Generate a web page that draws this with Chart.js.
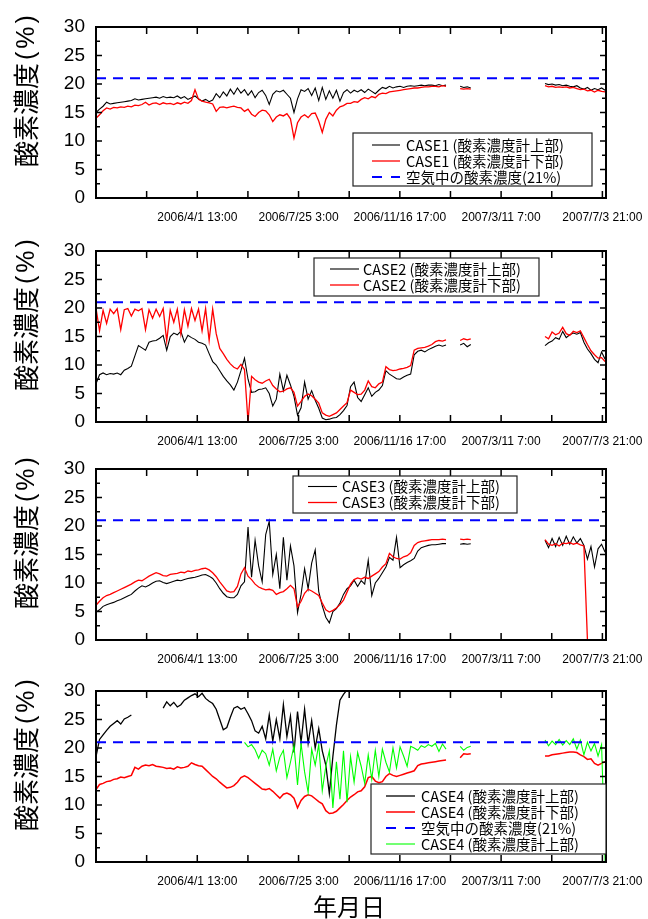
<!DOCTYPE html>
<html>
<head>
<meta charset="utf-8">
<script src="https://cdn.jsdelivr.net/npm/chart.js@4"></script>
<style>
  body { margin: 0; background: #fff; width: 648px; height: 919px; position: relative; overflow: hidden; }
  .panel { position: absolute; left: 0; width: 648px; }
</style>
</head>
<body>
<div class="panel" style="top:7px;height:221px"><canvas id="case1"></canvas></div>
<div class="panel" style="top:231px;height:221px"><canvas id="case2"></canvas></div>
<div class="panel" style="top:449px;height:221px"><canvas id="case3"></canvas></div>
<div class="panel" style="top:671px;height:248px"><canvas id="case4"></canvas></div>
<script>
const _ = null;

// readings every 4 days, day 0 = 2005/12/7 23:00 (left edge of the axis)
const sampleStepDays = 4;
const xMaxDays = 577;
const xMinorDays = 57.2917;
const xTickDays = [114.583, 229.167, 343.75, 458.333, 572.917];
const xTickLabels = ['2006/4/1 13:00', '2006/7/25 3:00', '2006/11/16 17:00', '2007/3/11 7:00', '2007/7/3 21:00'];
const yTitleMain = '酸素濃度';
const yTitleUnit = '(%)';
const xTitle = '年月日';
const airLevel = 21;
const airLabel = '空気中の酸素濃度(21%)';

const case1Upper = [
  15.0, 15.6, 16.1, 16.8, 16.5, 16.6, 16.7, 16.8, 16.9, 17.0,
  17.1, 17.4, 17.2, 17.3, 17.4, 17.5, 17.6, 17.7, 17.5, 17.8,
  17.6, 17.7, 17.6, 17.9, 17.5, 17.8, 17.3, 17.6, 17.9, 17.4,
  17.0, 17.3, 16.9, 17.2, 18.3, 17.6, 18.6, 17.9, 19.1, 18.2,
  19.3, 18.4, 19.0, 18.0, 18.8, 17.6, 18.5, 18.9, 18.0, 16.4,
  18.2, 18.8, 18.6, 18.9, 18.2, 17.5, 15.0, 17.4, 19.0, 18.7,
  19.2, 18.0, 19.3, 17.1, 19.4, 17.3, 18.8, 17.5, 18.9, 17.0,
  18.5, 19.0, 18.4, 18.9, 18.6, 19.0, 18.5, 19.1, 18.7, 18.3,
  18.9, 19.4, 19.2, 19.6, 19.3, 19.5, 19.6, 19.4, 19.6, 19.7,
  19.6, 19.7, 19.8, 19.7, 19.8, 19.8, 19.7, 19.9, 19.7, 19.8,
  _, _, _, 19.6, 19.4, 19.5, 19.3, _, _, _,
  _, _, _, _, _, _, _, _, _, _,
  _, _, _, _, _, _, _, 20.1, 19.9, 20.0,
  19.8, 19.9, 19.7, 19.8, 19.6, 19.5, 19.7, 19.3, 19.1, 19.4,
  18.9, 19.2, 19.0, 19.3, 18.9
];
const case1Lower = [
  14.0, 14.6, 15.3, 15.8, 15.6, 15.9, 15.8, 16.0, 15.9, 16.1,
  16.0, 16.3, 16.2, 16.4, 16.8, 16.3, 16.6, 16.7, 16.4, 16.7,
  16.5, 16.6, 16.4, 16.7, 16.5, 16.8, 16.6, 17.1, 19.0, 17.3,
  17.0, 16.8, 16.7, 16.5, 15.2, 15.9, 16.0, 15.8, 16.0, 16.1,
  15.9, 15.8, 15.2, 15.6, 14.7, 14.3, 15.0, 15.4, 15.3, 14.6,
  13.4, 14.2, 14.6, 14.4, 14.8, 13.9, 10.5, 13.2, 14.2, 14.6,
  14.1, 14.8, 14.9, 13.5, 11.5, 13.8, 15.0, 14.4, 15.4, 16.0,
  16.2, 16.6, 16.6, 16.9, 16.8, 17.3, 17.6, 17.4, 17.8, 17.6,
  18.2, 18.4, 18.3, 18.6, 18.7, 18.8, 18.9, 19.0, 19.1, 19.2,
  19.3, 19.3, 19.4, 19.5, 19.5, 19.6, 19.6, 19.5, 19.7, 19.6,
  _, _, _, 19.2, 19.1, 19.2, 19.1, _, _, _,
  _, _, _, _, _, _, _, _, _, _,
  _, _, _, _, _, _, _, 19.7, 19.5, 19.6,
  19.4, 19.5, 19.4, 19.5, 19.3, 19.4, 19.2, 19.0, 19.1, 18.8,
  18.9, 18.6, 18.9, 18.7, 18.6
];

const case2Upper = [
  6.7, 8.3, 8.6, 8.3, 8.5, 8.4, 8.6, 8.3, 9.1, 9.4,
  9.8, 11.6, 13.4, 13.0, 12.6, 14.0, 14.2, 14.3, 14.7, 15.2,
  12.6, 15.0, 15.6, 15.3, 15.9, 14.0, 15.2, 14.8, 14.5, 14.0,
  13.8, 13.5, 12.0, 10.6, 10.0, 9.0, 8.0, 7.2, 6.5, 5.6,
  7.0, 9.0, 11.2, 7.5, 5.2, 5.3, 5.7, 5.8, 6.0, 5.0,
  2.8, 4.0, 8.4, 5.5, 8.2, 6.5, 4.5, 1.2, 2.5, 7.0,
  4.0, 5.5, 3.8, 2.4, 0.7, 0.4, 0.5, 0.7, 0.8, 1.3,
  2.0, 2.9, 6.2, 7.0, 4.3, 3.6, 4.8, 6.0, 4.5, 5.2,
  5.6, 6.4, 9.0, 8.4, 8.0, 7.6, 7.5, 7.9, 8.2, 8.4,
  11.8, 12.4, 12.6, 12.3, 12.7, 13.0, 13.3, 13.5, 13.3, 13.5,
  _, _, _, 13.5, 13.8, 13.2, 13.6, _, _, _,
  _, _, _, _, _, _, _, _, _, _,
  _, _, _, _, _, _, _, 13.4, 13.9, 14.2,
  14.8, 14.5, 15.9, 14.8, 15.3, 15.6, 15.4, 15.7, 14.0, 12.8,
  12.0, 11.0, 10.4, 12.3, 11.0
];
const case2Lower = [
  20.0, 16.0, 19.6, 17.3, 19.8, 19.0, 19.9, 16.2, 19.7, 19.9,
  18.6, 19.8, 19.5, 19.9, 16.2, 19.7, 18.2, 19.8, 18.5, 19.9,
  14.2, 19.6, 17.5, 19.8, 15.4, 19.7, 16.8, 19.9, 17.8, 19.8,
  16.0, 19.9, 14.3, 19.8, 15.5, 12.9, 12.0, 11.0, 10.2, 9.6,
  9.3, 10.1, 9.2, 0.0, 8.0, 7.4, 7.0, 6.8, 7.2, 7.5,
  6.4, 5.8, 5.3, 5.4, 5.8, 6.0, 5.2, 2.8, 3.6, 4.5,
  4.9, 4.6, 4.0, 3.3, 1.6, 1.2, 1.0, 1.3, 1.6, 2.2,
  2.8, 3.4, 5.6, 5.2, 4.8, 4.9, 5.6, 7.2, 6.2, 6.0,
  6.7, 7.0, 9.7, 9.2, 9.0, 9.1, 9.3, 9.4, 9.6, 9.9,
  12.6, 12.9, 13.0, 13.1, 13.3, 13.6, 14.1, 14.3, 14.2, 14.4,
  _, _, _, 14.3, 14.6, 14.4, 14.6, _, _, _,
  _, _, _, _, _, _, _, _, _, _,
  _, _, _, _, _, _, _, 15.0, 14.6, 15.8,
  15.3, 15.6, 16.6, 15.5, 15.2, 15.9, 15.7, 16.0, 14.8, 13.6,
  12.5, 11.8, 11.2, 11.3, 10.6
];

const case3Upper = [
  4.9, 5.3, 5.9, 6.2, 6.4, 6.6, 6.9, 7.1, 7.4, 7.7,
  8.0, 8.6, 9.1, 9.5, 9.3, 9.6, 10.0, 10.3, 10.4, 10.1,
  9.9, 10.1, 10.3, 10.5, 10.4, 10.6, 10.8, 10.9, 11.0, 11.2,
  11.4, 11.5, 11.2, 10.8, 10.0, 9.0, 8.2, 7.6, 7.4, 7.4,
  8.0, 9.5, 10.2, 19.8, 11.0, 17.5, 13.0, 10.2, 18.5, 20.8,
  11.5, 15.0, 9.0, 18.0, 10.5, 16.5, 13.0, 4.8, 8.0, 12.5,
  9.0, 13.5, 15.8, 8.5, 6.0, 4.0, 3.0, 5.0, 5.5, 6.5,
  8.0, 9.0, 9.5, 10.5, 9.4, 10.4, 9.8, 14.0, 7.8, 10.0,
  10.8, 11.8, 12.8, 14.5, 14.0, 18.0, 12.7, 13.2, 13.6, 13.9,
  14.3, 15.6, 16.2, 16.4, 16.6, 16.7, 16.7, 16.8, 16.9, 16.9,
  _, _, _, 16.8, 16.9, 16.8, 16.9, _, _, _,
  _, _, _, _, _, _, _, _, _, _,
  _, _, _, _, _, _, _, 17.5, 16.2, 17.8,
  16.4, 18.0, 16.6, 18.2, 16.8, 18.1, 17.0, 17.8, 16.6, 14.2,
  16.4, 12.8, 16.0, 16.8, 15.4
];
const case3Lower = [
  6.1, 6.8, 7.4, 7.8, 8.0, 8.3, 8.6, 8.9, 9.2, 9.5,
  9.8, 10.2, 10.5, 10.4, 10.8, 11.2, 11.5, 11.8, 11.6, 11.3,
  11.2, 11.5, 11.6, 11.7, 11.9, 11.8, 12.1, 12.0, 12.2, 12.3,
  12.5, 12.6, 12.3, 11.8, 11.1, 10.2, 9.4, 8.6, 8.4, 8.5,
  9.4, 11.6, 12.7, 11.2, 10.6, 9.8, 9.3, 9.0, 8.8, 8.9,
  8.7, 8.0, 8.3, 8.5, 9.0, 9.6, 9.0, 5.8, 6.8, 8.2,
  8.9, 8.6, 8.2, 7.8, 6.5, 5.3, 4.9, 5.2, 5.6, 6.2,
  7.0, 8.4, 9.8, 10.6, 10.9, 10.7, 11.0, 10.8, 11.2, 11.6,
  12.0, 12.8, 13.4, 15.2, 14.6, 14.3, 14.2, 14.6, 14.8, 15.3,
  16.6, 17.1, 17.3, 17.4, 17.5, 17.6, 17.6, 17.6, 17.7, 17.6,
  _, _, _, 17.7, 17.6, 17.7, 17.6, _, _, _,
  _, _, _, _, _, _, _, _, _, _,
  _, _, _, _, _, _, _, 17.6, 16.8, 16.6,
  16.9, 16.5, 17.0, 16.9, 17.1, 16.8, 17.0, 16.7, 16.5, 0.0,
  0.0, 0.0, 0.0, 0.0, 0.0
];

const case4Upper = [
  18.5, 21.5, 22.3, 23.1, 23.8, 24.3, 24.8, 24.2, 25.1, 25.4,
  25.8, _, _, _, _, _, _, _, _, 27.0,
  28.1, 27.4, 28.0, 27.2, 27.6, 28.4, 28.8, 29.2, 29.5, 29.0,
  29.6, 28.7, 28.2, 27.8, 26.8, 25.0, 23.2, 23.6, 25.4, 27.0,
  27.3, 26.8, 27.1, 26.0, 24.8, 23.0, 22.6, 23.8, 21.6, 25.8,
  21.2, 25.0, 21.6, 27.6, 22.0, 25.6, 19.2, 26.4, 21.0, 26.8,
  20.8, 24.8, 20.0, 23.4, 19.5, 17.0, 12.0, 18.5, 24.0, 28.4,
  29.4, 30.2, 30.6, _, _, _, _, _, _, _,
  _, _, _, _, _, _, _, _, _, _,
  _, _, _, _, _, _, _, _, _, _,
  _, _, _, _, _, _, _, _, _, _,
  _, _, _, _, _, _, _, _, _, _,
  _, _, _, _, _, _, _, _, _, _,
  _, _, _, _, _, _, _, _, _, _,
  _, _, _, _, _
];
const case4Lower = [
  12.7, 13.6, 13.8, 14.1, 14.2, 14.5, 14.6, 14.9, 14.8, 15.0,
  15.2, 16.6, 16.3, 16.8, 17.0, 16.9, 17.1, 16.8, 16.7, 16.6,
  16.4, 16.5, 16.3, 16.7, 16.5, 16.6, 16.8, 17.4, 17.1, 16.9,
  16.8, 16.2, 15.6, 15.0, 14.6, 14.0, 13.5, 13.0, 13.1, 13.4,
  14.0, 14.8, 15.1, 14.8, 14.3, 13.8, 13.3, 12.8, 12.7, 12.9,
  12.4, 11.8, 11.2, 11.9, 12.1, 11.8, 11.2, 9.5, 10.8, 11.5,
  11.8, 11.6, 11.1, 10.6, 10.2, 9.0, 8.5, 8.6, 8.9, 9.5,
  10.1, 10.8, 11.4, 11.8, 12.3, 12.5, 13.2, 14.8, 15.0, 14.2,
  13.9, 14.1, 15.0, 15.5, 15.2, 15.0, 15.2, 15.4, 15.6, 15.8,
  16.0, 16.9, 17.2, 17.3, 17.4, 17.5, 17.6, 17.7, 17.8, 17.9,
  _, _, _, 18.3, 19.0, 18.9, 19.0, _, _, _,
  _, _, _, _, _, _, _, _, _, _,
  _, _, _, _, _, _, _, 18.6, 18.6, 18.8,
  18.9, 19.0, 19.1, 19.2, 19.3, 19.3, 19.2, 18.8, 18.5, 18.0,
  18.1, 17.3, 17.0, 17.3, 17.6
];
const case4UpperGreen = [
  _, _, _, _, _, _, _, _, _, _,
  _, _, _, _, _, _, _, _, _, _,
  _, _, _, _, _, _, _, _, _, _,
  _, _, _, _, _, _, _, _, _, _,
  _, _, 21.0, 20.2, 20.6, 19.7, 18.2, 19.6, 19.0, 17.0,
  19.8, 16.0, 18.4, 19.6, 14.8, 17.5, 20.4, 13.5, 20.8, 15.8,
  12.2, 19.8, 17.0, 20.6, 12.5, 16.8, 19.5, 9.5, 17.6, 11.0,
  19.5, 10.5, 18.5, 14.0, 19.2, 16.8, 13.8, 18.8, 14.5, 19.6,
  15.0, 19.8, 17.5, 15.8, 20.0, 16.5, 20.2, 18.6, 16.8, 20.3,
  20.0, 19.6, 20.4, 20.1, 20.6, 20.3, 20.8, 19.4, 20.7, 19.8,
  _, _, _, 20.3, 19.6, 20.1, 20.3, _, _, _,
  _, _, _, _, _, _, _, _, _, _,
  _, _, _, _, _, _, _, 21.4, 20.4, 21.2,
  20.6, 21.5, 20.5, 21.3, 20.6, 21.6, 19.8, 21.4, 18.8, 21.0,
  19.5, 20.8, 18.6, 20.6, 0.0
];

Chart.defaults.font.family = '"Liberation Sans", "Noto Sans CJK JP", sans-serif';
Chart.defaults.color = '#000';

const toPoints = ys => ys.map((y, i) => ({ x: i * sampleStepDays, y }));

function trace(label, ys, color, width, order) {
  return { label, data: toPoints(ys), borderColor: color, borderWidth: width, order };
}
function airLine() {
  return {
    label: airLabel,
    data: [{ x: 0, y: airLevel }, { x: xMaxDays, y: airLevel }],
    borderColor: '#0000ff', borderWidth: 2, borderDash: [10, 7], order: 0
  };
}

// frame, inward ticks, boxed legend and axis titles
const panelDecor = {
  id: 'panelDecor',
  afterDatasetsDraw(chart, args, o) {
    const { ctx, chartArea: a } = chart;
    const x = chart.scales.x, y = chart.scales.y;
    ctx.save();
    ctx.strokeStyle = '#000';
    ctx.lineWidth = 1.5;
    ctx.beginPath();
    for (let k = 1; k * xMinorDays < xMaxDays - 2; k++) {
      const px = x.getPixelForValue(k * xMinorDays);
      ctx.moveTo(px, a.bottom); ctx.lineTo(px, a.bottom - 7);
      ctx.moveTo(px, a.top); ctx.lineTo(px, a.top + 7);
    }
    for (let k = 1; k < 12; k++) {
      const py = y.getPixelForValue(k * 2.5), len = k % 2 ? 4 : 6;
      ctx.moveTo(a.left, py); ctx.lineTo(a.left + len, py);
      ctx.moveTo(a.right, py); ctx.lineTo(a.right - len, py);
    }
    ctx.stroke();
    ctx.lineWidth = 2;
    ctx.strokeRect(a.left, a.top, a.right - a.left, a.bottom - a.top);

    const L = o.legend;
    const bx = a.left + L.x, by = a.top + L.y;
    ctx.fillStyle = '#fff';
    ctx.fillRect(bx, by, L.w, L.h);
    ctx.lineWidth = 1.2;
    ctx.strokeStyle = '#222';
    ctx.strokeRect(bx, by, L.w, L.h);
    ctx.font = '14.5px "Noto Sans CJK JP"';
    ctx.textBaseline = 'middle';
    ctx.textAlign = 'left';
    L.rows.forEach((di, r) => {
      const ds = chart.data.datasets[di];
      const cy = by + L.first + r * 16;
      ctx.strokeStyle = ds.borderColor;
      ctx.lineWidth = ds.borderWidth;
      ctx.setLineDash(ds.borderDash ? [10, 9] : []);
      ctx.beginPath(); ctx.moveTo(bx + L.s0, cy); ctx.lineTo(bx + L.s1, cy); ctx.stroke();
      ctx.setLineDash([]);
      ctx.fillStyle = '#000';
      ctx.fillText(ds.label, bx + L.t, cy);
    });

    ctx.fillStyle = '#000';
    if (o.xTitle) {
      ctx.textAlign = 'center';
      ctx.font = '24px "Noto Sans CJK JP"';
      ctx.fillText(o.xTitle, (a.left + a.right) / 2 - 2, o.xTitleY);
    }
    // rotated y title, written upward from its bottom end
    ctx.textAlign = 'left';
    ctx.translate(26, a.top + 140);
    ctx.rotate(-Math.PI / 2);
    ctx.font = '26px "Noto Sans CJK JP"';
    ctx.fillText(yTitleMain, 0, 0);
    const w = ctx.measureText(yTitleMain).width;
    ctx.font = '25px "Liberation Sans"';
    ctx.letterSpacing = '3px';
    ctx.fillText(yTitleUnit, w + 3, 1);
    ctx.restore();
  }
};

function makePanel(id, datasets, legend, axisHeight, extra) {
  new Chart(document.getElementById(id), {
    type: 'line',
    data: { datasets },
    plugins: [panelDecor],
    options: {
      responsive: true,
      maintainAspectRatio: false,
      animation: false,
      events: [],
      layout: { padding: { top: 20, right: 42, left: 0, bottom: 0 } },
      elements: { point: { radius: 0 }, line: { tension: 0 } },
      plugins: {
        legend: { display: false },
        tooltip: { enabled: false },
        panelDecor: Object.assign({ legend }, extra || {})
      },
      scales: {
        x: {
          type: 'linear', min: 0, max: xMaxDays,
          grid: { display: false, drawTicks: false },
          border: { display: false },
          afterBuildTicks: s => { s.ticks = xTickDays.map(v => ({ value: v })); },
          afterFit: s => { s.height = axisHeight; s.paddingLeft = 0; s.paddingRight = 0; },
          ticks: {
            autoSkip: false, maxRotation: 0, minRotation: 0, padding: 12,
            font: { size: 12 },
            callback: (v, i) => xTickLabels[i]
          }
        },
        y: {
          min: 0, max: 30,
          grid: { display: false, drawTicks: false },
          border: { display: false },
          afterFit: s => { s.width = 96; s.paddingTop = 0; s.paddingBottom = 0; },
          ticks: { stepSize: 5, padding: 11, font: { size: 19 } }
        }
      }
    }
  });
}

makePanel('case1', [
  trace('CASE1 (酸素濃度計上部)', case1Upper, '#000000', 1.1, 2),
  trace('CASE1 (酸素濃度計下部)', case1Lower, '#ff0000', 1.3, 1),
  airLine()
], { x: 257, y: 106, w: 239, h: 53, first: 12, s0: 19, s1: 47, t: 53, rows: [0, 1, 2] }, 30);

makePanel('case2', [
  trace('CASE2 (酸素濃度計上部)', case2Upper, '#000000', 1.1, 2),
  trace('CASE2 (酸素濃度計下部)', case2Lower, '#ff0000', 1.3, 1),
  airLine()
], { x: 218, y: 7, w: 225, h: 38, first: 11, s0: 16, s1: 45, t: 49, rows: [0, 1] }, 30);

makePanel('case3', [
  trace('CASE3 (酸素濃度計上部)', case3Upper, '#000000', 1.1, 2),
  trace('CASE3 (酸素濃度計下部)', case3Lower, '#ff0000', 1.3, 1),
  airLine()
], { x: 197, y: 7, w: 224, h: 37, first: 10.5, s0: 15, s1: 44, t: 49, rows: [0, 1] }, 30);

makePanel('case4', [
  trace('CASE4 (酸素濃度計上部)', case4Upper, '#000000', 1.3, 3),
  trace('CASE4 (酸素濃度計下部)', case4Lower, '#ff0000', 1.5, 2),
  airLine(),
  trace('CASE4 (酸素濃度計上部)', case4UpperGreen, '#00ff00', 1.1, 1)
], { x: 275, y: 93, w: 235, h: 70, first: 12, s0: 15, s1: 44, t: 50, rows: [0, 1, 2, 3] }, 57,
  { xTitle: xTitle, xTitleY: 236 });
</script>
</body>
</html>
